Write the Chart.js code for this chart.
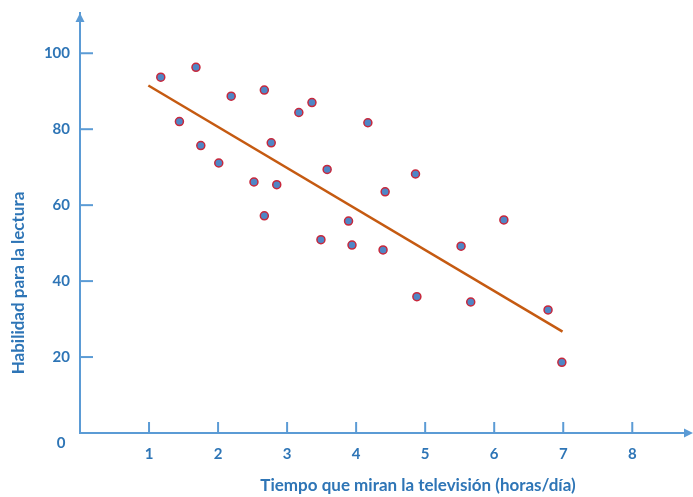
<!DOCTYPE html>
<html>
<head>
<meta charset="utf-8">
<script src="https://cdn.jsdelivr.net/npm/chart.js@4"></script>
<style>
  html, body { margin: 0; padding: 0; background: #fff; }
  #wrap { width: 693px; height: 497px; position: relative; }
</style>
</head>
<body>
<div id="wrap"><canvas id="chart"></canvas></div>
<script>
// === DATOS ===
const horasTV = [1.17, 1.68, 1.44, 1.75, 2.01, 2.19, 2.52, 2.67, 2.67, 2.77, 2.85, 3.17, 3.36, 3.49,
  3.58, 3.89, 3.94, 4.17, 4.39, 4.42, 4.86, 4.88, 5.52, 5.66, 6.14, 6.78, 6.98];
const habilidad = [93.7, 96.3, 82.0, 75.7, 71.1, 88.7, 66.1, 90.3, 57.2, 76.4, 65.4, 84.4, 87.0, 50.9,
  69.4, 55.8, 49.5, 81.7, 48.2, 63.5, 68.2, 35.9, 49.2, 34.5, 56.1, 32.4, 18.6];
const tendenciaX = [0.99, 6.99];
const tendenciaY = [91.5, 26.7];
const ticksX = [1, 2, 3, 4, 5, 6, 7, 8];
const ticksY = [0, 20, 40, 60, 80, 100];

const tituloX = "Tiempo que miran la televisión (horas/día)";
const tituloY = "Habilidad para la lectura";

const AXIS_COLOR = "#5B9BD5";
const TEXT_COLOR = "#2E75B6";
const FONT = "Lato";

// === EJES: marcas internas, flechas y títulos ===
const ejesPlugin = {
  id: "ejes",
  afterDraw(chart) {
    const ctx = chart.ctx;
    const xs = chart.scales.x;
    const ys = chart.scales.y;
    const x0 = xs.getPixelForValue(0);
    const y0 = ys.getPixelForValue(0);
    ctx.save();
    ctx.strokeStyle = AXIS_COLOR;
    ctx.fillStyle = AXIS_COLOR;
    ctx.lineWidth = 2;
    // marcas en x
    ticksX.forEach((v) => {
      const px = xs.getPixelForValue(v);
      ctx.beginPath();
      ctx.moveTo(px, y0);
      ctx.lineTo(px, y0 - 11);
      ctx.stroke();
    });
    // marcas en y
    ticksY.slice(1).forEach((v) => {
      const py = ys.getPixelForValue(v);
      ctx.beginPath();
      ctx.moveTo(x0, py);
      ctx.lineTo(x0 + 13, py);
      ctx.stroke();
    });
    // flechas
    const top = chart.chartArea.top;
    ctx.beginPath();
    ctx.moveTo(x0, top);
    ctx.lineTo(x0 - 4.5, top + 9);
    ctx.lineTo(x0 + 4.5, top + 9);
    ctx.closePath();
    ctx.fill();
    // el eje x sigue hasta el borde derecho
    const right = chart.width;
    ctx.beginPath();
    ctx.moveTo(chart.chartArea.right, y0);
    ctx.lineTo(right - 5, y0);
    ctx.stroke();
    ctx.beginPath();
    ctx.moveTo(right, y0);
    ctx.lineTo(right - 9, y0 - 4.5);
    ctx.lineTo(right - 9, y0 + 4.5);
    ctx.closePath();
    ctx.fill();
    // etiqueta del origen, un poco más abajo
    ctx.fillStyle = TEXT_COLOR;
    ctx.font = `bold 15px ${FONT}`;
    ctx.textAlign = "center";
    ctx.textBaseline = "middle";
    ctx.fillText("0", 61, 443);
    // títulos
    ctx.font = `bold 17px ${FONT}`;
    ctx.fillText(tituloX, 418, 486);
    ctx.translate(19, 283);
    ctx.rotate(-Math.PI / 2);
    ctx.fillText(tituloY, 0, 0);
    ctx.restore();
  },
};

// === GRÁFICO ===
new Chart(document.getElementById("chart"), {
  type: "scatter",
  data: {
    datasets: [
      {
        type: "line",
        label: "Tendencia",
        data: tendenciaX.map((x, i) => ({ x, y: tendenciaY[i] })),
        borderColor: "#C55A11",
        borderWidth: 2.5,
        pointRadius: 0,
        fill: false,
      },
      {
        label: "Datos",
        data: horasTV.map((x, i) => ({ x, y: habilidad[i] })),
        backgroundColor: "#4F86C6",
        borderColor: "#C8283C",
        borderWidth: 1.5,
        pointRadius: 4,
      },
    ],
  },
  options: {
    responsive: true,
    maintainAspectRatio: false,
    animation: false,
    layout: { padding: { top: 13, right: 0, left: 0, bottom: 0 } },
    plugins: {
      legend: { display: false },
      tooltip: { enabled: false },
    },
    scales: {
      x: {
        type: "linear",
        min: 0,
        max: 8.8,
        grid: { display: false, drawTicks: false },
        border: { color: AXIS_COLOR, width: 2 },
        afterBuildTicks: (s) => { s.ticks = ticksX.map((v) => ({ value: v })); },
        afterFit: (s) => { s.height = 64; },
        ticks: {
          padding: 12,
          color: TEXT_COLOR,
          font: { family: FONT, size: 15, weight: "bold" },
          maxRotation: 0,
        },
      },
      y: {
        type: "linear",
        min: 0,
        max: 110.6,
        grid: { display: false, drawTicks: false },
        border: { color: AXIS_COLOR, width: 2 },
        afterBuildTicks: (s) => { s.ticks = ticksY.map((v) => ({ value: v })); },
        afterFit: (s) => { s.width = 80; s.paddingTop = 0; s.paddingBottom = 0; },
        ticks: {
          padding: 10,
          color: TEXT_COLOR,
          font: { family: FONT, size: 15, weight: "bold" },
          callback: (v) => (v === 0 ? "" : v),
        },
      },
    },
  },
  plugins: [ejesPlugin],
});
</script>
</body>
</html>
